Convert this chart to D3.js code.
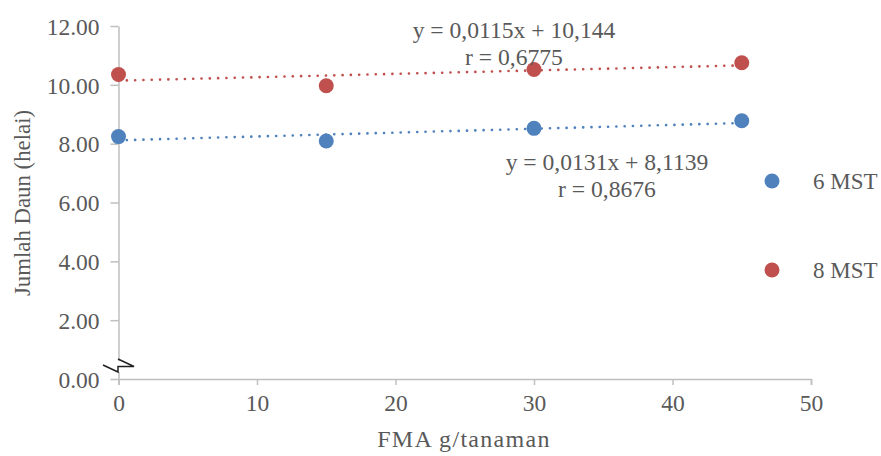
<!DOCTYPE html>
<html><head><meta charset="utf-8">
<script src="https://cdn.jsdelivr.net/npm/d3@7"></script>
<style>body{margin:0;background:#fff}svg{display:block}</style>
</head><body>
<svg id="c" width="881" height="456"></svg>
<script>
const xValues = [0, 15, 30, 45];
const series6 = [8.24, 8.09, 8.52, 8.78];
const series8 = [10.35, 9.97, 10.52, 10.75];
const seriesNames = ["6 MST", "8 MST"];
const seriesColors = ["#4F81BD", "#C0504D"];
const trend6 = {slope: 0.0131, intercept: 8.1139, eq: "y = 0,0131x + 8,1139", r: "r = 0,8676"};
const trend8 = {slope: 0.0115, intercept: 10.144, eq: "y = 0,0115x + 10,144", r: "r = 0,6775"};
const xTicks = [0, 10, 20, 30, 40, 50];
const yTicks = [0, 2, 4, 6, 8, 10, 12];
const xTitle = "FMA g/tanaman";
const yTitle = "Jumlah Daun (helai)";

const svg = d3.select("#c");
const font = "'Liberation Serif','Times New Roman',serif";
const txt = "#595959", axisCol = "#BFBFBF";
const x = d3.scaleLinear().domain([0, 50]).range([118.5, 811]);
const y = d3.scaleLinear().domain([0, 12]).range([379, 26]);

// axes
const xa = svg.append("g").attr("transform", "translate(0,379)")
  .call(d3.axisBottom(x).tickValues(xTicks).tickFormat(d3.format("d")).tickSizeInner(6).tickSizeOuter(6).tickPadding(9));
const ya = svg.append("g").attr("transform", "translate(118.5,0)")
  .call(d3.axisLeft(y).tickValues(yTicks).tickFormat(d3.format(".2f")).tickSizeInner(8).tickSizeOuter(0).tickPadding(11));
[xa, ya].forEach(a => {
  a.selectAll("path,line").attr("stroke", axisCol).attr("stroke-width", 1.5);
  a.selectAll("text").attr("fill", txt).attr("font-family", font).attr("font-size", 23.5);
});
ya.selectAll("text").attr("dy", "0.35em");

// axis break
svg.append("rect").attr("x", 112).attr("y", 361).attr("width", 14).attr("height", 11).attr("fill", "#fff");
svg.append("path").attr("d", "M103,365 L118,372 L118,366.5 L134,366.5 L118,359")
  .attr("fill", "none").attr("stroke", "#222").attr("stroke-width", 1.5);

// trend lines
const trends = [trend6, trend8];
trends.forEach((t, i) => {
  svg.append("line")
    .attr("x1", x(0)).attr("y1", y(t.intercept))
    .attr("x2", x(45)).attr("y2", y(t.intercept + t.slope * 45))
    .attr("stroke", seriesColors[i]).attr("stroke-width", 2.6)
    .attr("stroke-linecap", "round").attr("stroke-dasharray", "0.1 8.2");
});

// points
[series6, series8].forEach((s, i) => {
  svg.append("g").selectAll("circle").data(s).join("circle")
    .attr("cx", (d, j) => x(xValues[j])).attr("cy", d => y(d)).attr("r", 7.5)
    .attr("fill", seriesColors[i]);
});

// equations
function label(cx, by, text) {
  svg.append("text").attr("x", cx).attr("y", by).attr("text-anchor", "middle")
    .attr("fill", txt).attr("font-family", font).attr("font-size", 23.6).text(text);
}
label(514, 38, trend8.eq);
label(514, 65, trend8.r);
label(607, 170, trend6.eq);
label(607, 197, trend6.r);

// legend
seriesNames.forEach((n, i) => {
  const cy = 181 + i * 89;
  svg.append("circle").attr("cx", 772).attr("cy", cy).attr("r", 7.5).attr("fill", seriesColors[i]);
  svg.append("text").attr("x", 813).attr("y", cy + 7.5).attr("fill", txt)
    .attr("font-family", font).attr("font-size", 23).text(n);
});

// axis titles
svg.append("text").attr("x", 464).attr("y", 447).attr("text-anchor", "middle")
  .attr("fill", txt).attr("font-family", font).attr("font-size", 24).attr("letter-spacing", 1.3).text(xTitle);
svg.append("text").attr("transform", "translate(30,203) rotate(-90)").attr("text-anchor", "middle")
  .attr("fill", txt).attr("font-family", font).attr("font-size", 22.8).text(yTitle);
</script>
</body></html>
